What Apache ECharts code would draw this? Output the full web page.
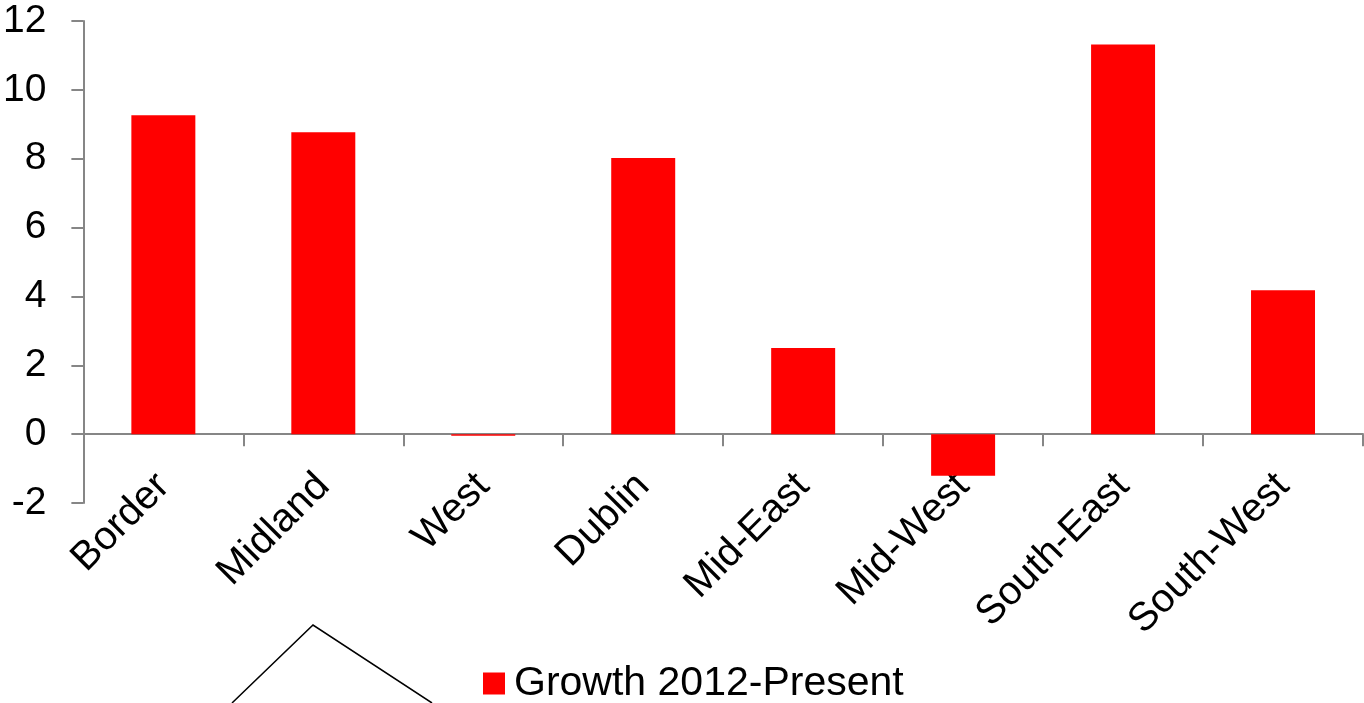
<!DOCTYPE html>
<html>
<head>
<meta charset="utf-8">
<script src="https://cdn.jsdelivr.net/npm/echarts@6/dist/echarts.min.js"></script>
<style>
html,body{margin:0;padding:0;background:#fff;}
#chart{width:1364px;height:703px;}
</style>
</head>
<body>
<div id="chart"></div>
<script>
var categories = ['Border','Midland','West','Dublin','Mid-East','Mid-West','South-East','South-West'];
var seriesName = 'Growth 2012-Present';
var growthValues = [9.26, 8.77, -0.05, 8.02, 2.5, -1.21, 11.32, 4.18];
var yMin = -2, yMax = 12, yInterval = 2;

var chart = echarts.init(document.getElementById('chart'));
var axisColor = '#868686';
var font = 'Liberation Sans, Arial, sans-serif';
chart.setOption({
  animation: false,
  backgroundColor: '#fff',
  grid: {left: 82, right: 1, top: 21, bottom: 200, containLabel: false},
  legend: {
    data: [seriesName],
    left: 483, top: 663,
    padding: 0,
    itemWidth: 22, itemHeight: 22,
    icon: 'rect',
    textStyle: {fontFamily: font, fontSize: 41, color: '#000', padding: [0,0,0,4]}
  },
  xAxis: {
    type: 'category',
    data: categories,
    axisLine: {onZero: true, lineStyle: {color: axisColor, width: 2}},
    axisTick: {show: true, length: 12, lineStyle: {color: axisColor, width: 2}},
    axisLabel: {rotate: 45, fontFamily: font, fontSize: 40, color: '#000', margin: -23, interval: 0}
  },
  yAxis: {
    type: 'value',
    min: yMin, max: yMax, interval: yInterval,
    axisLine: {show: true, lineStyle: {color: axisColor, width: 2}},
    axisTick: {show: true, length: 12, lineStyle: {color: axisColor, width: 2}},
    splitLine: {show: false},
    axisLabel: {fontFamily: font, fontSize: 39, color: '#000', margin: 37}
  },
  series: [{
    name: seriesName,
    type: 'bar',
    data: growthValues,
    barWidth: '40%',
    itemStyle: {color: '#FF0000'}
  }],
  graphic: [{
    type: 'polyline',
    shape: {points: [[232, 703], [313, 625], [432, 703]]},
    style: {stroke: '#000', lineWidth: 1.5, fill: null}
  }]
});
</script>
</body>
</html>
